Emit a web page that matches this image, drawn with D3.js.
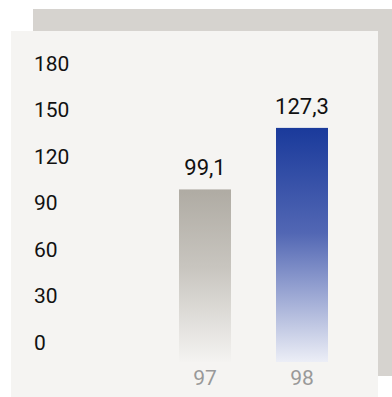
<!DOCTYPE html>
<html>
<head>
<meta charset="utf-8">
<script src="https://cdn.jsdelivr.net/npm/d3@7"></script>
<style>
  html, body { margin: 0; padding: 0; background: #ffffff; }
  svg { display: block; font-family: Roboto, "Noto Sans", sans-serif; }
</style>
</head>
<body>
<svg id="chart" width="392" height="397"></svg>
<script>
// Years shown on the category axis
const years = ["97", "98"];
// Index values per year
const values = [99.1, 127.3];
// Value labels as printed above the bars
const valueLabels = ["99,1", "127,3"];
// Tick labels on the value axis
const tickValues = [0, 30, 60, 90, 120, 150, 180];

const svg = d3.select("#chart");

// Backdrop card and main panel
svg.append("rect").attr("x", 33).attr("y", 9).attr("width", 359).attr("height", 367).attr("fill", "#d6d3cf");
svg.append("rect").attr("x", 11).attr("y", 31).attr("width", 367).attr("height", 366).attr("fill", "#f5f4f2");

// Gradients for the bars
const defs = svg.append("defs");
const grads = [
  { id: "g97", stops: [["0%", "#afaba3"], ["45%", "#c8c5bf"], ["100%", "#f4f3f1"]] },
  { id: "g98", stops: [["0%", "#1a3a9b"], ["45%", "#5267b4"], ["100%", "#eceef6"]] }
];
grads.forEach(g => {
  const lg = defs.append("linearGradient").attr("id", g.id)
    .attr("x1", 0).attr("y1", 0).attr("x2", 0).attr("y2", 1);
  g.stops.forEach(s => lg.append("stop").attr("offset", s[0]).attr("stop-color", s[1]));
});

// Scales
const x = d3.scaleBand().domain(years).range([179, 328]).paddingInner(0.464).paddingOuter(0);
const yBar = d3.scaleLinear().domain([20, 130]).range([362, 122]);
const yTick = d3.scaleLinear().domain([0, 180]).range([342, 63]);

// Value axis labels
svg.append("g").selectAll("text").data(tickValues).join("text")
  .attr("x", 34)
  .attr("y", d => yTick(d))
  .attr("dy", "0.36em")
  .attr("font-size", 21)
  .attr("fill", "#111")
  .text(d => d);

// Bars
svg.append("g").selectAll("rect").data(values).join("rect")
  .attr("x", (d, i) => x(years[i]))
  .attr("width", x.bandwidth())
  .attr("y", d => yBar(d))
  .attr("height", d => yBar(20) - yBar(d))
  .attr("fill", (d, i) => `url(#${grads[i].id})`);

// Value labels
svg.append("g").selectAll("text").data(values).join("text")
  .attr("x", (d, i) => x(years[i]) + x.bandwidth() / 2)
  .attr("y", d => yBar(d) - 14)
  .attr("text-anchor", "middle")
  .attr("font-size", 22)
  .attr("fill", "#111")
  .text((d, i) => valueLabels[i]);

// Category labels
svg.append("g").selectAll("text").data(years).join("text")
  .attr("x", d => x(d) + x.bandwidth() / 2)
  .attr("y", 385)
  .attr("text-anchor", "middle")
  .attr("font-size", 21)
  .attr("fill", "#999")
  .text(d => d);
</script>
</body>
</html>
